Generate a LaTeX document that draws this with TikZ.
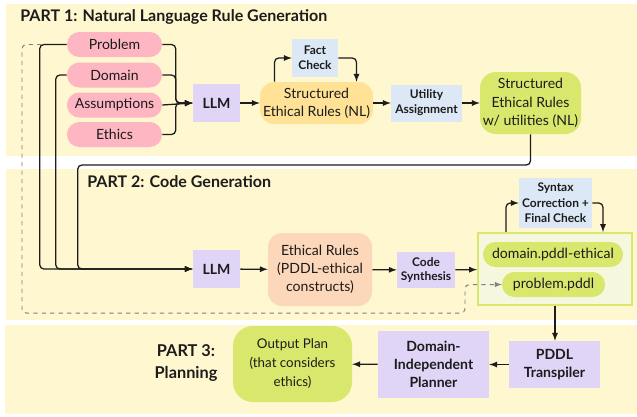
\documentclass[tikz,border=0pt]{standalone}
\usepackage{fontspec}
\setmainfont{Lato}
\usetikzlibrary{calc}

\definecolor{partbg}{RGB}{254,247,207}
\definecolor{pinkbox}{RGB}{253,182,194}
\definecolor{lavbox}{RGB}{224,213,247}
\definecolor{bluebox}{RGB}{220,232,246}
\definecolor{goldbox}{RGB}{255,226,150}
\definecolor{limebox}{RGB}{217,231,108}
\definecolor{peachbox}{RGB}{253,215,185}
\definecolor{palefill}{RGB}{245,248,222}
\definecolor{ink}{RGB}{28,28,28}
\def\pxu{0.025cm}

\tikzset{
	title/.style={font=\fontsize{11.4}{14}\selectfont\bfseries, text=ink, inner sep=0pt},
	input/.style={fill=pinkbox, rounded corners=0.31cm, minimum width=95*\pxu, minimum height=25*\pxu, inner sep=0pt, font=\fontsize{10}{12}\selectfont, text=ink},
	model/.style={fill=lavbox, minimum width=47*\pxu, minimum height=38*\pxu, inner sep=0pt, font=\fontsize{10}{13}\selectfont\bfseries, text=ink, align=center},
	check/.style={fill=bluebox, inner sep=0pt, font=\fontsize{8.5}{10.5}\selectfont\bfseries, text=ink, align=center},
	rules/.style={rounded corners=0.35cm, inner sep=0pt, font=\fontsize{10}{13}\selectfont, text=ink, align=center},
	file/.style={fill=limebox, rounded corners=0.31cm, minimum height=25*\pxu, inner sep=0pt, font=\fontsize{10}{12}\selectfont, text=ink},
	flow/.style={line width=0.9pt, draw=ink, rounded corners=3pt, -latex},
	backflow/.style={line width=0.7pt, draw=gray, dashed, rounded corners=3pt, -latex}
}

\begin{document}
\begin{tikzpicture}[x=0.025cm, y=-0.025cm]
	\useasboundingbox (0,0) rectangle (637,416);
	
	% part backgrounds
	\fill[partbg] (6,4) rectangle (637,156);
	\fill[partbg] (6,169) rectangle (637,320);
	\fill[partbg] (5,325) rectangle (637,414);
	
	\node[title, anchor=west] (t1) at (20,17) {PART 1: Natural Language Rule Generation};
	\node[title, anchor=west] (t2) at (87,181.5) {PART 2: Code Generation};
	\node[title, align=center, font=\fontsize{11.6}{15}\selectfont\bfseries] (t3) at (186,363) {PART 3:\\Planning};
	
	% part 1
	\node[input] (prob) at (114.5,44.5) {Problem};
	\node[input] (dom) at (114.5,75) {Domain};
	\node[input] (asm) at (114.5,105) {Assumptions};
	\node[input] (eth) at (114.5,134.5) {Ethics};
	
	\node[model] (llm1) at (216.5,103) {LLM};
	\node[rules, fill=goldbox, minimum width=113*\pxu, minimum height=42*\pxu] (snl) at (316.5,103) {Structured\\Ethical Rules (NL)};
	\node[check, minimum width=46*\pxu, minimum height=38*\pxu] (fact) at (315,58) {Fact\\Check};
	\node[check, minimum width=71*\pxu, minimum height=37*\pxu] (util) at (426.5,103) {Utility\\Assignment};
	\node[rules, fill=limebox, rounded corners=0.4cm, minimum width=101*\pxu, minimum height=62*\pxu] (utl) at (530.5,103) {Structured\\Ethical Rules\\w/ utilities (NL)};
	
	% part 2
	\node[model] (llm2) at (216.5,269) {LLM};
	\node[rules, fill=peachbox, minimum width=104*\pxu, minimum height=73*\pxu] (erp) at (320,269.5) {Ethical Rules\\(PDDL-ethical\\constructs)};
	\node[model, font=\fontsize{8.5}{10.5}\selectfont\bfseries, minimum width=58*\pxu, minimum height=36*\pxu] (code) at (426,270) {Code\\Synthesis};
	\node[draw=limebox, line width=1.5pt, fill=palefill, minimum width=154*\pxu, minimum height=72*\pxu, inner sep=0pt] (files) at (555,269) {};
	\node[file, minimum width=140*\pxu] (dompd) at (553,254.5) {domain.pddl-ethical};
	\node[file, minimum width=103*\pxu] (probpd) at (553.5,284.5) {problem.pddl};
	\node[check, minimum width=73*\pxu, minimum height=50*\pxu, font=\fontsize{8.5}{11}\selectfont\bfseries] (syn) at (555.5,203) {Syntax\\Correction +\\Final Check};
	
	% part 3
	\node[model, minimum width=91*\pxu, minimum height=47*\pxu] (trans) at (554.5,364.5) {PDDL\\Transpiler};
	\node[model, minimum width=111*\pxu, minimum height=67*\pxu] (plan) at (433.5,364.5) {Domain-\\Independent\\Planner};
	\node[rules, fill=limebox, rounded corners=0.5cm, minimum width=119*\pxu, minimum height=76*\pxu, font=\fontsize{9.5}{13.5}\selectfont] (out) at (292.5,364) {Output Plan\\(that considers\\ethics)};
	
	% dashed feed of the problem file
	\draw[backflow] (prob.west) -| (22,313) -| (465,284.5) -- (probpd.west);
	
	% inputs into first LLM
	\draw[flow] (prob.east) -| ($(llm1.west)+(-17,0)$) -- (llm1.west);
	\draw[flow] (dom.east) -| ($(llm1.west)+(-17,0)$) -- (llm1.west);
	\draw[flow] (asm.east) -- (llm1.west);
	\draw[flow] (eth.east) -| ($(llm1.west)+(-17,0)$) -- (llm1.west);
	
	\draw[flow] (llm1) -- (snl);
	\draw[flow] ($(snl.north)+(-42,0)$) |- (fact.west);
	\draw[flow] (fact.east) -| ($(snl.north)+(40,0)$);
	\draw[flow] (snl) -- (util);
	\draw[flow] (util) -- (utl);
	
	% inputs into second LLM
	\draw[flow] (prob.west) -| ($(llm2.west)+(-153,0)$) -- (llm2.west);
	\draw[flow] (dom.west) -| ($(llm2.west)+(-137,0)$) -- (llm2.west);
	\draw[flow] (utl.south) |- ($(llm2.west)+(-115,-104)$) |- (llm2.west);
	
	\draw[flow] (llm2) -- (erp);
	\draw[flow] (erp) -- (code);
	\draw[flow] (code) -- (files);
	\draw[flow] ($(files.north)+(-49,0)$) |- (syn.west);
	\draw[flow] (syn.east) -| ($(files.north)+(48,0)$);
	
	% planning
	\draw[flow] (files.south) -- (files.south |- trans.north);
	\draw[flow] (trans) -- (plan);
	\draw[flow] (plan) -- (out);
\end{tikzpicture}
\end{document}
